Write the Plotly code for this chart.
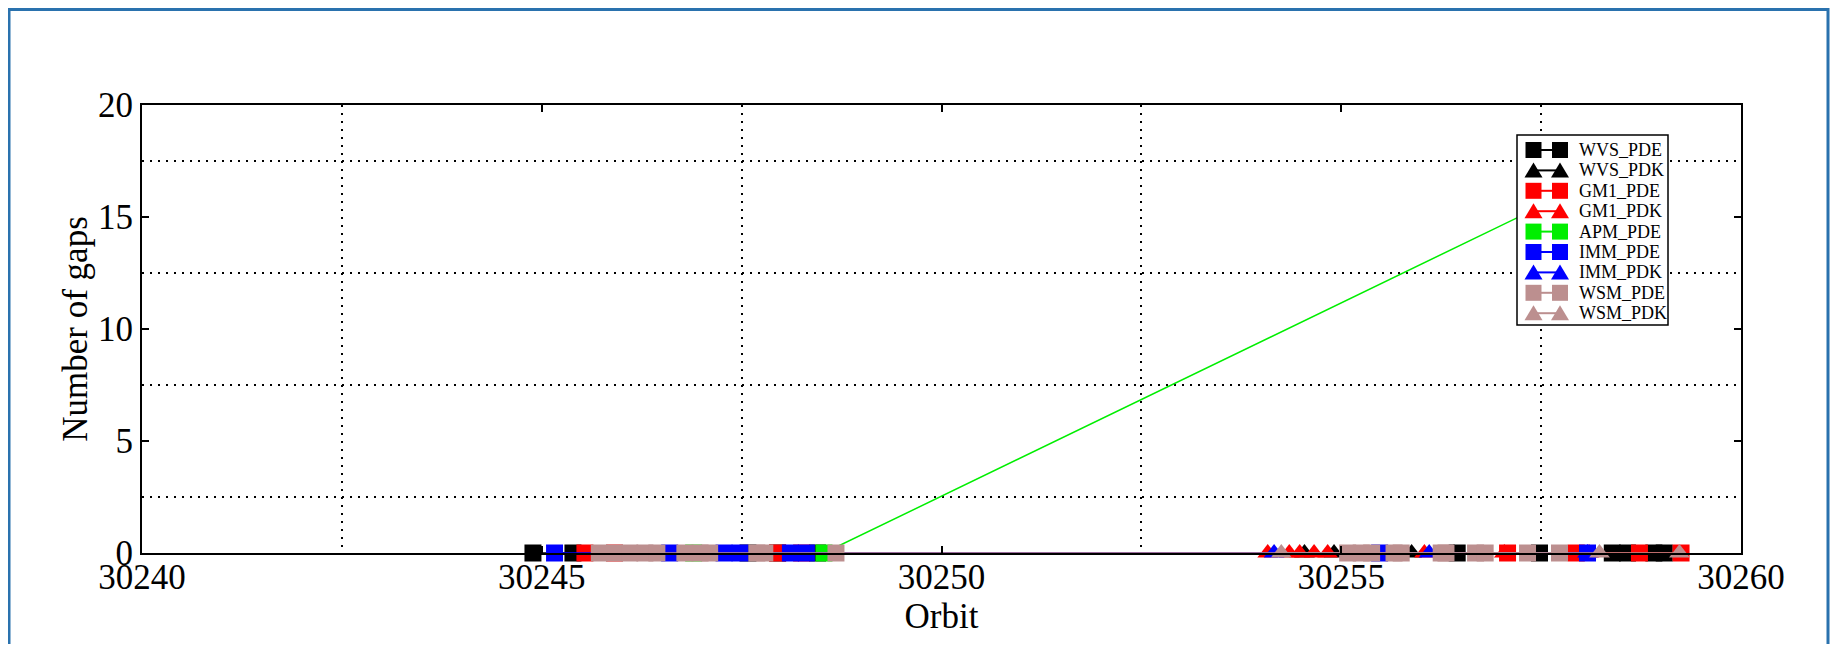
import plotly.graph_objects as go

# ---- data (orbit positions where gaps were recorded; y = number of gaps) ----
series_names = ["WVS_PDE", "WVS_PDK", "GM1_PDE", "GM1_PDK", "APM_PDE",
                "IMM_PDE", "IMM_PDK", "WSM_PDE", "WSM_PDK"]

wvs_pde_x = [30244.89, 30245.39, 30247.58, 30247.95, 30248.45,
             30256.45, 30257.48, 30258.39, 30258.58, 30258.91, 30259.04]
wvs_pde_y = [0, 0, 0, 0, 0, 0, 0, 0, 0, 0, 0]

wvs_pdk_x = [30254.54, 30254.91, 30255.88, 30256.41]
wvs_pdk_y = [0, 0, 0, 0]

gm1_pde_x = [30245.54, 30245.91, 30247.95, 30248.25,
             30257.08, 30257.94, 30258.73, 30259.25]
gm1_pde_y = [0, 0, 0, 0, 0, 0, 0, 0]

gm1_pdk_x = [30254.08, 30254.35, 30254.48, 30254.66, 30254.83,
             30256.04, 30257.04, 30258.10]
gm1_pdk_y = [0, 0, 0, 0, 0, 0, 0, 0]

apm_pde_x = [30246.90, 30248.53, 30257.80]
apm_pde_y = [0, 0, 16]

imm_pde_x = [30245.16, 30246.60, 30247.28, 30247.48, 30248.11, 30248.31,
             30255.48, 30258.08]
imm_pde_y = [0, 0, 0, 0, 0, 0, 0, 0]

imm_pdk_x = [30254.16, 30256.10, 30258.08]
imm_pdk_y = [0, 0, 0]

wsm_pde_x = [30245.72, 30245.91, 30246.10, 30246.29, 30246.44,
             30246.79, 30246.98, 30247.10, 30247.69, 30247.79, 30248.68,
             30255.08, 30255.25, 30255.38, 30255.66, 30255.75,
             30256.25, 30256.31, 30256.68, 30256.80, 30257.33, 30257.73]
wsm_pde_y = [0] * 22

wsm_pdk_x = [30254.25, 30258.23, 30259.23]
wsm_pdk_y = [0, 0, 0]

x_tick_vals = [30240, 30245, 30250, 30255, 30260]
y_tick_vals = [0, 5, 10, 15, 20]
x_grid_vals = [30242.5, 30247.5, 30252.5, 30257.5]
y_grid_vals = [2.5, 7.5, 12.5, 17.5]

# ---- styling ----
colors = {"WVS": "#000000", "GM1": "#ff0000", "APM": "#00ee00",
          "IMM": "#0000ff", "WSM": "#bc8f8f"}

data = [
    ("WVS_PDE", wvs_pde_x, wvs_pde_y),
    ("WVS_PDK", wvs_pdk_x, wvs_pdk_y),
    ("GM1_PDE", gm1_pde_x, gm1_pde_y),
    ("GM1_PDK", gm1_pdk_x, gm1_pdk_y),
    ("APM_PDE", apm_pde_x, apm_pde_y),
    ("IMM_PDE", imm_pde_x, imm_pde_y),
    ("IMM_PDK", imm_pdk_x, imm_pdk_y),
    ("WSM_PDE", wsm_pde_x, wsm_pde_y),
    ("WSM_PDK", wsm_pdk_x, wsm_pdk_y),
]

serif = "Liberation Serif, Times New Roman, serif"

# figure sized so the page (with the browser's 8px body margin) does not overflow
W, H = 1822, 636
L, R, T, B = 134, 89, 97, 91
PW, PH = W - L - R, H - T - B


def px_x(fx):
    return (fx - L) / PW


def px_y(fy):
    return (T + PH - fy) / PH


fig = go.Figure()
for name, xs, ys in data:
    c = colors[name[:3]]
    sym = "square" if name.endswith("PDE") else "triangle-up"
    fig.add_trace(go.Scatter(
        x=xs, y=ys, name=name, mode="lines+markers",
        line=dict(color=c, width=1.5),
        marker=dict(symbol=sym, size=17 if sym == "square" else 18,
                    color=c, line=dict(width=0)),
        cliponaxis=False, showlegend=False,
    ))

axis_common = dict(
    showline=True, linecolor="black", linewidth=2, mirror="ticks",
    ticks="inside", ticklen=7, tickwidth=1.5, tickcolor="black",
    showgrid=False, zeroline=False,
    tickfont=dict(family=serif, size=35, color="black"),
    title_font=dict(family=serif, size=35, color="black"),
)

grid_style = dict(showgrid=True, gridcolor="black", griddash="2px,6px",
                  gridwidth=2, ticks="")

fig.update_xaxes(
    range=[30240, 30260], tickvals=x_tick_vals,
    ticktext=[str(v) for v in x_tick_vals],
    ticklabelstandoff=-8,
    title_text="Orbit", title_standoff=0,
    minor=dict(tickvals=x_grid_vals, **grid_style),
    **axis_common,
)
fig.update_yaxes(
    range=[0, 20], tickvals=y_tick_vals,
    ticktext=[str(v) for v in y_tick_vals],
    title_text="Number of gaps", title_standoff=0,
    minor=dict(tickvals=y_grid_vals, **grid_style),
    **axis_common,
)

# ---- page border and hand-drawn legend (Grace style) ----
shapes = [dict(
    type="rect", xref="paper", yref="paper",
    x0=px_x(1), x1=px_x(W - 2), y0=px_y(H + 40), y1=px_y(1.5),
    line=dict(color="#2a72ae", width=3), layer="below",
)]
annotations = []

box_x0, box_x1, box_y0, box_y1 = 1509, 1660, 127, 317
shapes.append(dict(type="rect", xref="paper", yref="paper",
                   x0=px_x(box_x0), x1=px_x(box_x1),
                   y0=px_y(box_y1), y1=px_y(box_y0),
                   line=dict(color="black", width=1.5), fillcolor="white",
                   layer="above"))

row0, row_gap = 142, 20.4
g_left, g_right, text_x = 1525.5, 1552, 1569
for i, name in enumerate(series_names):
    c = colors[name[:3]]
    cy = row0 + i * row_gap
    shapes.append(dict(type="line", xref="paper", yref="paper",
                       x0=px_x(g_left), x1=px_x(g_right),
                       y0=px_y(cy), y1=px_y(cy),
                       line=dict(color=c, width=2), layer="above"))
    for cx in (g_left, g_right):
        if name.endswith("PDE"):
            shapes.append(dict(type="rect", xref="paper", yref="paper",
                               x0=px_x(cx - 8), x1=px_x(cx + 8),
                               y0=px_y(cy + 8), y1=px_y(cy - 8),
                               line=dict(width=0), fillcolor=c,
                               layer="above"))
        else:
            path = "M {:.5f},{:.5f} L {:.5f},{:.5f} L {:.5f},{:.5f} Z".format(
                px_x(cx - 9), px_y(cy + 7), px_x(cx + 9), px_y(cy + 7),
                px_x(cx), px_y(cy - 8))
            shapes.append(dict(type="path", xref="paper", yref="paper",
                               path=path, line=dict(width=0), fillcolor=c,
                               layer="above"))
    annotations.append(dict(
        text=name, xref="paper", yref="paper",
        x=px_x(text_x), y=px_y(cy), xanchor="left", yanchor="middle",
        showarrow=False, font=dict(family=serif, size=18, color="black"),
    ))

fig.update_layout(
    width=W, height=H,
    margin=dict(l=L, r=R, t=T, b=B),
    paper_bgcolor="white", plot_bgcolor="white",
    showlegend=False,
    shapes=shapes, annotations=annotations,
)

fig.write_html("out.html")
